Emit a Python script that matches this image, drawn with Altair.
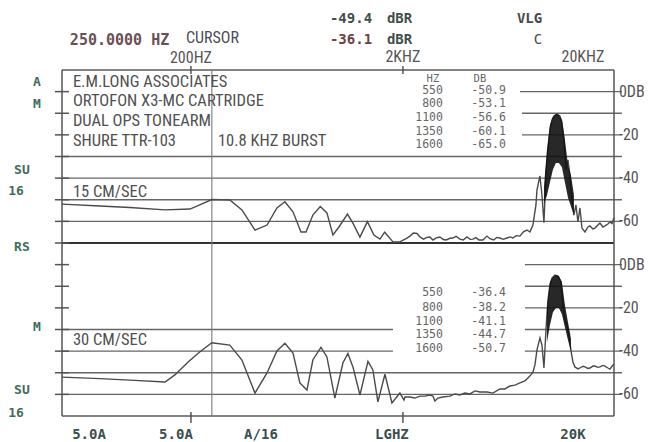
import altair as alt
import pandas as pd

# ---------------- scales ----------------
F_MIN, F_MAX = 49.3, 19800
V_TOP, V_BOT = 10, -150          # top panel: +10..-70 dB, bottom panel shifted by -80
BOTTOM_SHIFT = -80

NARROW = "Roboto Condensed, Liberation Sans Narrow, DejaVu Sans Condensed, Liberation Sans, sans-serif"
MONO = "DejaVu Sans Mono, Liberation Mono, monospace"

# ---------------- data: 15 cm/sec trace (top) ----------------
top_freq = [49.3, 74.4, 103, 151, 198, 220, 251, 305, 348, 401, 457, 509, 555, 606, 661, 698,
            752, 815, 876, 935, 998, 1095, 1162, 1254, 1360, 1460, 1558, 1640, 1794, 1935, 2089,
            2158, 2240, 2330, 2406, 2500, 2600, 2682, 2770, 2870, 2989, 3100, 3200, 3332, 3442,
            3560, 3714, 3850, 4009, 4150, 4279, 4420, 4570, 4769, 4981, 5150, 5350, 5550, 5736,
            5950, 6189, 6400, 6605, 6850, 7126, 7400, 7689, 7945, 8208,
            8482, 8574, 8858, 9053, 9252, 9455, 9661, 9872, 10090, 10313, 10652, 11004, 11246,
            11495, 11749, 12007, 12268, 12536, 12813, 13095, 13383, 13678, 13978, 14442, 14917,
            15246, 15748, 16097, 16626, 16994, 17555, 17943, 18537, 18944, 19363, 19787]
top_db = [-52.0, -52.9, -53.6, -54.7, -54.3, -52.4, -49.9, -50.1, -54.7, -64.0, -61.7, -53.8,
          -50.9, -55.6, -64.9, -64.9, -57.1, -53.1, -56.1, -66.3, -62.6, -56.6, -60.8, -67.3,
          -60.1, -66.3, -68.2, -65.0, -69.5, -69.5, -67.7,
          -66.8, -65.4, -65.6, -67.2, -68.2, -67.4, -67.2, -68.6, -67.6, -67.2, -68.4, -68.6,
          -67.8, -67.7, -66.9, -68.2, -68.6, -67.2, -68.3, -68.2, -67.5, -68.6, -68.6, -66.8,
          -68.0, -68.6, -67.4, -67.7, -68.3, -67.7, -67.2, -67.7, -66.6, -66.8, -64.8, -64.0,
          -64.9, -61.7,
          -52.4, -45.5, -39.0, -47.8, -60.6, -38.1, -27.0, -17.8, -13.1, -11.3, -10.4, -11.3,
          -14.1, -22.4, -36.2, -31.6, -38.6, -50.1, -57.1, -52.4, -60.3, -53.8, -63.1, -64.9,
          -62.6, -62.1, -63.5, -63.1, -61.7, -60.8, -62.6, -62.1, -61.2, -60.3, -61.0, -58.4]

# burst core (dense black part), top
topb_freq = [9252, 9556, 9872, 10199, 10537, 10886, 11246, 11620, 12007, 12400, 12813]
topb_hi = [-44.0, -27.0, -15.4, -11.7, -10.4, -10.8, -13.1, -22.4, -33.9, -38.6, -47.8]
topb_lo = [-52.0, -48.0, -42.0, -36.0, -33.0, -33.0, -35.0, -42.0, -49.0, -53.0, -57.0]

# ---------------- data: 30 cm/sec trace (bottom) ----------------
bot_freq = [49.3, 74.4, 103, 151, 168, 194, 220, 251, 305, 348, 401, 457, 509, 555, 606, 653,
            705, 752, 821, 876, 955, 1042, 1100, 1162, 1254, 1368, 1443, 1524, 1645, 1775, 1935,
            2022, 2044, 2158, 2278, 2406, 2540, 2682, 2770, 2831, 2926, 3088, 3332, 3518, 3714,
            3922, 4141, 4372, 4616, 4981, 5316, 5736, 6055, 6393, 6750, 7126, 7524, 7774, 8031,
            8208, 8390, 8574, 8858, 9053, 9252, 9455, 9661, 9872, 10090, 10424, 10768, 11124,
            11368, 11620, 11874, 12135, 12400, 12673, 12953, 13383, 13678, 14131, 14442, 14917,
            15246, 15748, 16097, 16626, 16994, 17555, 17943, 18537, 18944, 19363, 19787]
bot_db = [-52.0, -52.7, -53.4, -54.3, -51.0, -45.0, -40.4, -36.1, -37.2, -44.1, -59.4, -50.1,
          -39.9, -36.4, -40.9, -54.7, -58.0, -44.1, -38.2, -42.7, -61.7, -45.5, -41.1, -47.3,
          -60.3, -44.7, -48.7, -63.5, -50.7, -64.0, -59.4,
          -62.6, -61.2, -61.2, -61.7, -60.8, -60.8, -60.3, -60.8, -63.1, -61.7, -61.2, -60.8,
          -59.8, -60.3, -59.4, -59.8, -58.4, -58.9, -58.9, -59.4, -57.5, -57.5, -56.1, -55.7,
          -54.7, -53.8, -52.4, -51.0, -49.7, -46.4, -39.5, -33.9, -37.2, -47.8, -30.2, -16.4,
          -9.4, -6.2, -4.8, -5.3, -8.0, -18.7, -25.6, -27.9, -32.5, -39.5, -45.0, -47.3, -48.2,
          -47.8, -47.0, -47.3, -48.0, -47.8, -46.9, -46.9, -47.5, -47.3, -46.6, -46.9, -47.8,
          -48.3, -47.0, -46.0]

botb_freq = [9556, 9872, 10199, 10537, 10886, 11246, 11620, 12007, 12400]
botb_hi = [-20.0, -8.0, -5.7, -4.8, -5.3, -8.0, -18.7, -26.5, -34.0]
botb_lo = [-36.0, -28.0, -22.0, -20.0, -20.0, -23.0, -29.0, -34.9, -40.0]

# ---------------- table values ----------------
table_hz = ["550", "800", "1100", "1350", "1600"]
table_top_db = ["-50.9", "-53.1", "-56.6", "-60.1", "-65.0"]
table_bot_db = ["-36.4", "-38.2", "-41.1", "-44.7", "-50.7"]
table_top_rows = [0.3, -5.7, -12.2, -18.7, -24.7]
table_bot_rows = [-93.1, -100.1, -106.5, -112.5, -119.0]

# ---------------- grid segments (virtual dB, from Hz, to Hz) ----------------
grid_v = [0, -10, -20, -30, -40, -50, -60,
          -80, -90, -100, -110, -120, -110, -120, -130, -140]
grid_f1 = [7126, 7283, 7283, 49.3, 49.3, 49.3, 49.3,
           7524, 7524, 7524, 49.3, 49.3, 7524, 7524, 49.3, 49.3]
grid_f2 = [21580, 21580, 21580, 21580, 21580, 21580, 21580,
           21580, 21580, 21580, 1794, 1794, 21580, 21580, 21580, 21580]

frame_v = [10, -150]
sep_v = [-70]
tick_v = [0, -10, -20, -30, -40, -50, -60, -70, -80, -90, -100, -110, -120, -130, -140]
xtick_f = [200, 2000]

right_lbl = ["0DB", "-20", "-40", "-60", "0DB", "-20", "-40", "-60"]
right_v = [0, -20, -40, -60, -80, -100, -120, -140]

left_lbl = ["A", "M", "SU", "16", "RS", "M", "SU", "16"]
left_f = [37.5, 37.5, 31.9, 29.9, 31.9, 37.5, 31.9, 29.9]
left_v = [4.5, -5.7, -36.2, -46.0, -71.8, -108.8, -138.0, -148.6]

bottom_lbl = ["5.0A", "5.0A", "A/16", "LGHZ", "20K"]
bottom_f = [66.1, 170, 428, 1775, 12673]

block_lbl = ["E.M.LONG ASSOCIATES", "ORTOFON X3-MC CARTRIDGE", "DUAL OPS TONEARM",
             "SHURE TTR-103", "10.8 KHZ BURST", "15 CM/SEC", "30 CM/SEC"]
block_f = [55.5, 55.5, 55.5, 55.5, 268, 55.5, 55.5]
block_v = [4.45, -4.3, -13.6, -22.8, -22.8, -46.4, -114.9]

# ---------------- helpers ----------------
xs = alt.Scale(type="log", domain=[F_MIN, F_MAX], nice=False, zero=False)
ys = alt.Scale(domain=[V_BOT, V_TOP], nice=False, zero=False)
X = lambda f: alt.X(f, type="quantitative", scale=xs, axis=None)
Y = lambda f: alt.Y(f, type="quantitative", scale=ys, axis=None)


def texts(t, f, v, align="left", size=15, font=NARROW, color="#555555", weight="normal"):
    df = pd.DataFrame({"t": t, "f": f, "v": v})
    return alt.Chart(df).mark_text(align=align, baseline="middle", fontSize=size, font=font,
                                   color=color, fontWeight=weight).encode(
        x=X("f"), y=Y("v"), text="t:N")


def hrules(v, f1, f2, color="#666666", width=1.3):
    df = pd.DataFrame({"v": v, "f1": f1, "f2": f2})
    return alt.Chart(df).mark_rule(color=color, strokeWidth=width).encode(
        x=X("f1"), x2="f2:Q", y=Y("v"))


def vrules(f, v1, v2, color="#666666", width=1.3):
    df = pd.DataFrame({"f": f, "v1": v1, "v2": v2})
    return alt.Chart(df).mark_rule(color=color, strokeWidth=width).encode(
        x=X("f"), y=Y("v1"), y2="v2:Q")


layers = []
# grid
layers.append(hrules(grid_v, grid_f1, grid_f2))
layers.append(hrules(frame_v, [F_MIN, F_MIN], [F_MAX, F_MAX], color="#5a5a5a", width=1.5))
layers.append(hrules(sep_v, [F_MIN], [F_MAX], color="#333333", width=2.2))
# left axis ticks
layers.append(hrules(tick_v, [45.65] * len(tick_v), [53.15] * len(tick_v), color="#555555", width=1.5))
# frame verticals and cursor
layers.append(vrules([F_MIN, F_MAX], [V_TOP, V_TOP], [V_BOT, V_BOT], color="#555555", width=1.5))
layers.append(vrules([251], [V_TOP], [V_BOT], color="#7a7a7a", width=1.1))
# top / bottom x ticks
layers.append(vrules(xtick_f, [11.8, 11.8], [8.2, 8.2], color="#555555", width=1.5))
layers.append(vrules(xtick_f, [-148.2, -148.2], [-153.2, -153.2], color="#555555", width=1.5))

# traces
top_df = pd.DataFrame({"f": top_freq, "db": top_db})
bot_df = pd.DataFrame({"f": bot_freq, "db": bot_db})
layers.append(alt.Chart(top_df).mark_line(color="#4a4a4a", strokeWidth=1.4).encode(
    x=X("f"), y=Y("db")))
layers.append(alt.Chart(bot_df).transform_calculate(v=f"datum.db + ({BOTTOM_SHIFT})")
              .mark_line(color="#4a4a4a", strokeWidth=1.4).encode(x=X("f"), y=Y("v")))

topb_df = pd.DataFrame({"f": topb_freq, "hi": topb_hi, "lo": topb_lo})
botb_df = pd.DataFrame({"f": botb_freq, "hi": botb_hi, "lo": botb_lo})
layers.append(alt.Chart(topb_df).mark_area(color="#111111", opacity=0.9).encode(
    x=X("f"), y=Y("hi"), y2="lo:Q"))
layers.append(alt.Chart(botb_df).transform_calculate(
    h=f"datum.hi + ({BOTTOM_SHIFT})", l=f"datum.lo + ({BOTTOM_SHIFT})")
    .mark_area(color="#111111", opacity=0.9).encode(x=X("f"), y=Y("h"), y2="l:Q"))

# header texts
layers.append(texts(["250.0000 HZ"], [53.7], [23.9], font=MONO, size=15, weight="bold", color="#6d4f55"))
layers.append(texts(["CURSOR"], [189.4], [24.8], size=16, color="#4d4a58"))
layers.append(texts(["-49.4"], [905], [33.6], font=MONO, size=14, weight="bold", color="#3f4f4a"))
layers.append(texts(["-36.1"], [905], [23.9], font=MONO, size=14, weight="bold", color="#6d4343"))
layers.append(texts(["dBR", "dBR"], [1681, 1681], [33.6, 23.9], font=MONO, size=14, weight="bold", color="#3f4f4a"))
layers.append(texts(["VLG"], [6899], [33.6], font=MONO, size=14, weight="bold", color="#4a4a4a"))
layers.append(texts(["C"], [8667], [23.9], align="center", font=MONO, size=14, color="#4a4a4a"))
layers.append(texts(["200HZ", "2KHZ", "20KHZ"], [200, 2000, 14131], [15.6, 15.8, 15.8],
                    align="center", size=16, color="#555555"))

# text block
layers.append(texts(block_lbl, block_f, block_v, size=16.5, color="#505050"))

# tables
layers.append(texts(["HZ", "DB"], [2770, 4616], [5.8, 5.8], align="center", font=MONO, size=10.5, color="#666666"))
layers.append(texts(table_hz, [3088] * 5, table_top_rows, align="right", font=MONO, size=11.5, color="#666666"))
layers.append(texts(table_top_db, [6121] * 5, table_top_rows, align="right", font=MONO, size=11.5, color="#666666"))
layers.append(texts(table_hz, [3088] * 5, table_bot_rows, align="right", font=MONO, size=11.5, color="#666666"))
layers.append(texts(table_bot_db, [6121] * 5, table_bot_rows, align="right", font=MONO, size=11.5, color="#666666"))

# right dB labels
layers.append(texts(right_lbl, [20885] * len(right_lbl), right_v, size=16, color="#555555"))
# left letters
layers.append(texts(left_lbl, left_f, left_v, align="center", font=MONO, size=13, weight="bold", color="#3c6e5a"))
# bottom labels
layers.append(texts(bottom_lbl, bottom_f, [-158.8] * len(bottom_f), align="center", font=MONO, size=14,
                    weight="bold", color="#3a4f4f"))

chart = alt.layer(*layers).properties(
    width=552, height=346,
    autosize=alt.AutoSizeParams(type="none"),
    padding={"left": 54, "top": 62, "right": 31, "bottom": 26},
).configure_view(stroke=None)

chart.save("out.html", embed_options={"renderer": "svg", "actions": False})
